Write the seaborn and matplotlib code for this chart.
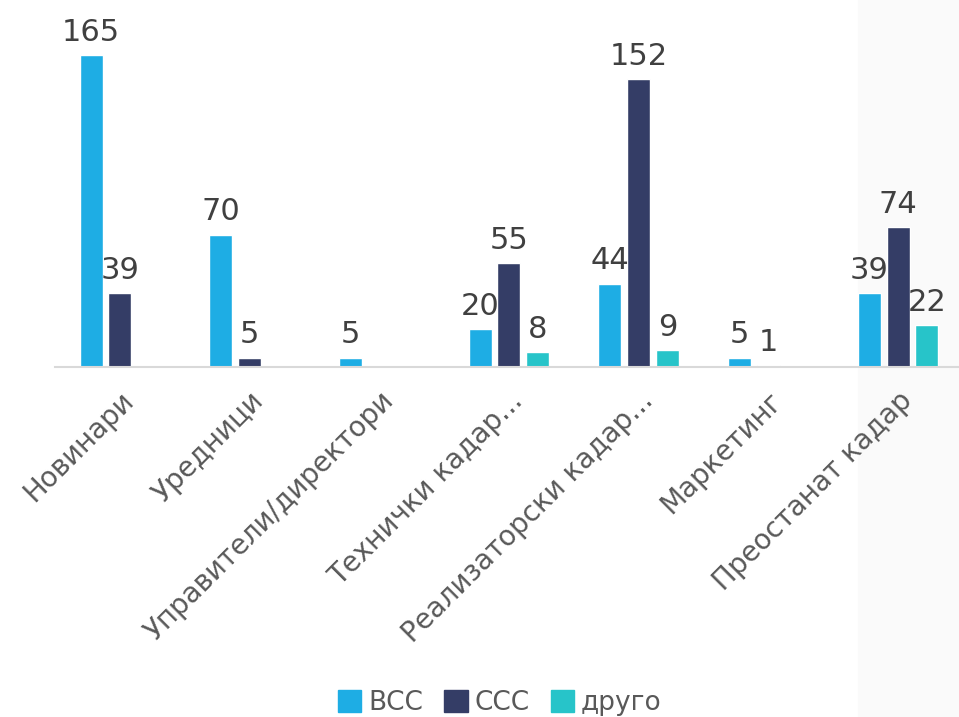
import matplotlib
matplotlib.use('Agg')
import matplotlib.pyplot as plt
import matplotlib.patches as mpatches
import seaborn as sns
import numpy as np
import pandas as pd

# data
categories = ['Новинари', 'Уредници', 'Управители/директори', 'Технички кадар...',
              'Реализаторски кадар...', 'Маркетинг', 'Преостанат кадар']
series = ['ВСС', 'ССС', 'друго']
vcc = [165, 70, 5, 20, 44, 5, 39]
ccc = [39, 5, np.nan, 55, 152, 1, 74]
drugo = [np.nan, np.nan, np.nan, 8, 9, np.nan, 22]
colors = ['#1EADE4', '#343D66', '#27C4C9']

df = pd.DataFrame({
    'category': categories * 3,
    'series': [s for s in series for _ in categories],
    'value': vcc + ccc + drugo,
})

sns.set_theme(style='white')
plt.rcParams['font.family'] = ['DejaVu Sans']

fig = plt.figure(figsize=(9.59, 7.17), dpi=100)
# light band at the right edge
fig.add_artist(mpatches.Rectangle((858 / 959, 0), 1 - 858 / 959, 1,
                                  transform=fig.transFigure, color='#FAFAFA',
                                  zorder=-10))
ax = fig.add_axes([55 / 959, 350 / 717, 904 / 959, 367 / 717])
ax.patch.set_alpha(0)

sns.barplot(data=df, x='category', y='value', hue='series', order=categories,
            hue_order=series, palette=colors, width=0.665, gap=0.2,
            saturation=1, ax=ax, legend=False)

for cont in ax.containers:
    ax.bar_label(cont, fmt='%g', padding=6, fontsize=22, color='#404040')

ax.set_xlim(-0.5, 6.47)
ax.set_ylim(0, 194)
ax.set_xlabel('')
ax.set_ylabel('')
ax.set_yticks([])
for s in ['top', 'left', 'right']:
    ax.spines[s].set_visible(False)
ax.spines['bottom'].set_color('#D9D9D9')
ax.spines['bottom'].set_linewidth(1.5)
ax.tick_params(axis='x', length=0, pad=14, labelsize=20, labelcolor='#595959')
plt.setp(ax.get_xticklabels(), rotation=45, ha='right', rotation_mode='anchor')

handles = [mpatches.Patch(color=c, label=s) for c, s in zip(colors, series)]
fig.legend(handles=handles, loc='lower center', bbox_to_anchor=(0.521, -0.032),
           ncol=3, frameon=False, fontsize=19, handlelength=0.9,
           handleheight=0.9, handletextpad=0.25, columnspacing=0.8,
           labelcolor='#595959')

fig.savefig('out.png', dpi=100)
